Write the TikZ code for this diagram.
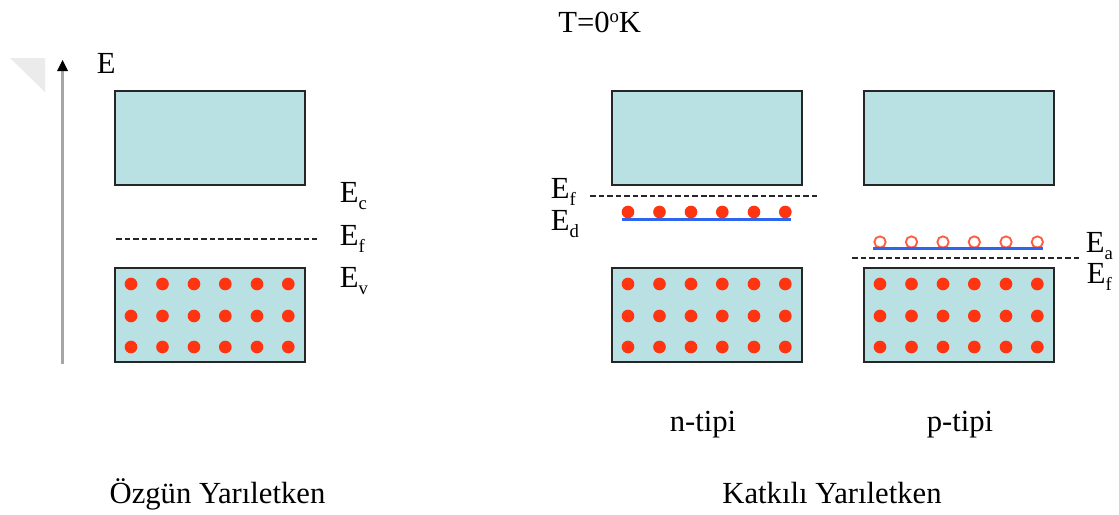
\documentclass[tikz,border=0pt]{standalone}
\usepackage{fontspec}
\setmainfont{Liberation Serif}
\newcommand{\lowsub}[1]{\raisebox{-5.5pt}{\fontsize{14pt}{15pt}\selectfont #1}}
\newcommand{\highsup}[1]{\raisebox{7pt}{\fontsize{14pt}{15pt}\selectfont #1}}
\definecolor{bandfill}{RGB}{185,224,227}
\definecolor{dotred}{RGB}{255,52,16}
\definecolor{levelblue}{RGB}{45,100,240}
\tikzset{
  x=0.75pt,y=-0.75pt,
  band/.style={draw=black!85,line width=1.2pt,fill=bandfill,inner sep=0pt,minimum width=142.5pt,minimum height=70.5pt},
  electron/.style={circle,fill=dotred,inner sep=0pt,minimum size=9.5pt},
  hole/.style={circle,draw=dotred!80,fill=white,line width=1.4pt,inner sep=0pt,minimum size=8.5pt},
  fermi/.style={line width=1pt,dash pattern=on 4.2pt off 2.2pt,black!85},
  level/.style={levelblue,line width=2.4pt},
  lbl/.style={anchor=base west,inner sep=0pt,font=\fontsize{23pt}{26pt}\selectfont},
  captext/.style={anchor=base,inner sep=0pt,font=\fontsize{23pt}{26pt}\selectfont}
}
\begin{document}
\begin{tikzpicture}
\useasboundingbox (0,0) rectangle (1119,514);
\fill[black!8] (10,58) -- (45,58) -- (45,92) -- cycle;
\coordinate (axisS) at (62.5,364);
\coordinate (axisT) at (62.5,60);
\draw[black!35,line width=2.2pt] (axisS) -- (62.5,68);
\fill[black] (axisT) -- (68,71) -- (57,71) -- cycle;
\node[lbl] (lE) at (96.5,73) {E};
\node[band] (b1u) at (209.7,138) {};
\node[band] (b1l) at (209.7,315) {};
\node[band] (b2u) at (706.7,138) {};
\node[band] (b2l) at (706.7,315) {};
\node[band] (b3u) at (958.7,138) {};
\node[band] (b3l) at (958.7,315) {};
\foreach \ox/\nm in {131/a,628/b,880/c}{
  \foreach \dx/\i in {0/1,31.5/2,63/3,94.3/4,126/5,157.3/6}{
    \foreach \yy in {284,316,347}{
      \node[electron] (d\nm\i\yy) at (\ox+\dx,\yy) {};
    }
  }
}
\coordinate (f1a) at (116,239);
\coordinate (f1b) at (317,239);
\draw[fermi] (f1a) -- (f1b);
\coordinate (f2a) at (590,196);
\coordinate (f2b) at (820,196);
\draw[fermi] (f2a) -- (f2b);
\coordinate (f3a) at (852,258);
\coordinate (f3b) at (1081,258);
\draw[fermi] (f3a) -- (f3b);
\coordinate (l2a) at (622,219.5);
\coordinate (l2b) at (791,219.5);
\draw[level] (l2a) -- (l2b);
\foreach \dx/\i in {0/1,31.5/2,63/3,94.3/4,126/5,157.3/6}{
  \node[electron] (ed\i) at (628+\dx,212) {};
  \node[hole] (ha\i) at (880+\dx,242) {};
}
\coordinate (l3a) at (873,248.5);
\coordinate (l3b) at (1043,248.5);
\draw[level] (l3a) -- (l3b);
\node[lbl] (lEc) at (339.5,202) {E\lowsub{c}};
\node[lbl] (lEf) at (339.5,245) {E\lowsub{f}};
\node[lbl] (lEv) at (339.5,287) {E\lowsub{v}};
\node[lbl] (lEfn) at (550.5,198) {E\lowsub{f}};
\node[lbl] (lEd) at (550.5,230) {E\lowsub{d}};
\node[lbl] (lEa) at (1085.5,252) {E\lowsub{a}};
\node[lbl] (lEfp) at (1086.5,283) {E\lowsub{f}};
\node[lbl] (title) at (558,32) {T=0\highsup{o}K};
\node[captext] (nt) at (703,431) {n-tipi};
\node[captext] (pt) at (960,431) {p-tipi};
\node[captext] (oz) at (217.5,503) {Özgün Yarıletken};
\node[captext] (ka) at (832,503) {Katkılı Yarıletken};
\end{tikzpicture}
\end{document}
